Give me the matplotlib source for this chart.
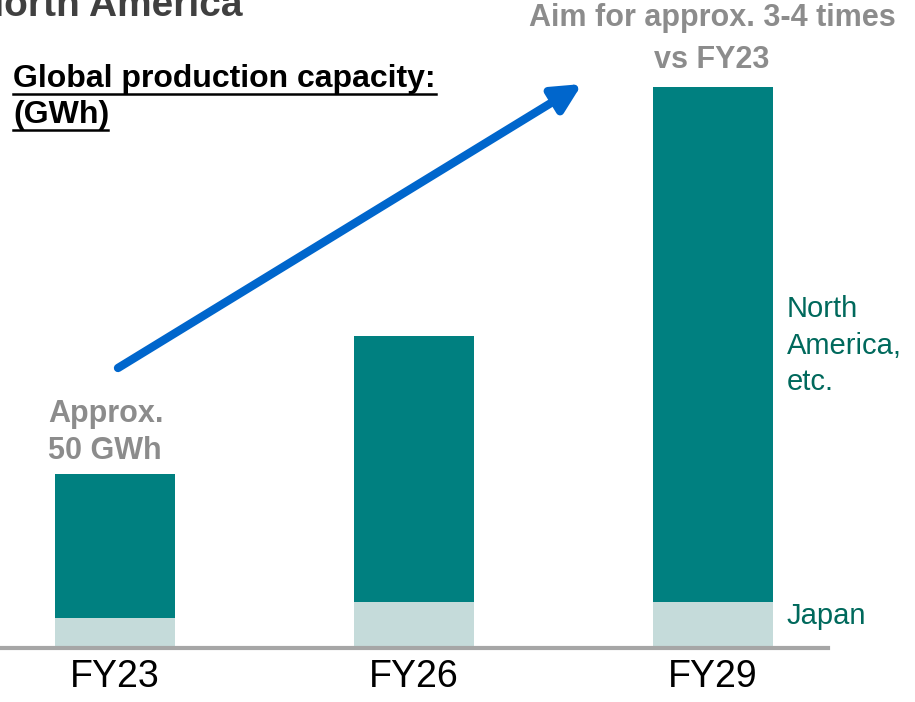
import matplotlib
matplotlib.use("Agg")
import matplotlib.pyplot as plt

plt.rcParams['font.family'] = ['Liberation Sans', 'DejaVu Sans']

# data (GWh)
years = ['FY23', 'FY26', 'FY29']
japan = [8.6, 13.2, 13.2]
north_america = [41.4, 76.5, 148.0]

teal = '#008080'
light = '#C5DBDA'
grey = '#8C8C8C'
green_txt = '#00695C'

W, H = 915, 702
fig = plt.figure(figsize=(W / 100, H / 100), dpi=100)

def px(x, y):
    # pixel coords (from top-left) to figure fraction
    return x / W, 1 - y / H

ax = fig.add_axes([0, 1 - 648 / H, 828 / W, 648 / H])
xs = range(len(years))
ax.bar(xs, japan, width=0.4, color=light)
ax.bar(xs, north_america, width=0.4, bottom=japan, color=teal)
ax.set_xlim(-0.385, 2.385)
ax.set_ylim(0, 648 / 3.48)
for s in ['top', 'right', 'left']:
    ax.spines[s].set_visible(False)
ax.spines['bottom'].set_color('#A6A6A6')
ax.spines['bottom'].set_linewidth(3)
ax.set_yticks([])
ax.set_xticks(list(xs))
ax.set_xticklabels(years, fontsize=27)
ax.tick_params(axis='x', length=0, pad=8)

# growth arrow
ax.annotate('', xy=px(582, 84), xytext=px(118, 368),
            xycoords='figure fraction', textcoords='figure fraction',
            arrowprops=dict(arrowstyle='-|>,head_length=1.7,head_width=0.85',
                            color='#0066CC', lw=6, shrinkA=0, shrinkB=0))

# titles and notes
fig.text(*px(-24, 16), 'North America', fontsize=28, fontweight='bold',
         color='#404040', va='baseline')
fig.text(*px(13, 87), 'Global production capacity:', fontsize=23,
         fontweight='bold', va='baseline')
fig.text(*px(13, 123), '(GWh)', fontsize=23, fontweight='bold', va='baseline')
for xx, yy, w in [(13, 94, 423), (13, 130, 95)]:
    fig.add_artist(plt.Line2D([xx / W, (xx + w) / W], [1 - yy / H] * 2,
                              color='black', lw=1.8))

fig.text(*px(712, 26), 'Aim for approx. 3-4 times', fontsize=22,
         fontweight='bold', color=grey, ha='center', va='baseline')
fig.text(*px(712, 68), 'vs FY23', fontsize=22, fontweight='bold',
         color=grey, ha='center', va='baseline')
fig.text(*px(48, 422), 'Approx.', fontsize=22, fontweight='bold',
         color=grey, va='baseline')
fig.text(*px(48, 459), '50 GWh', fontsize=22, fontweight='bold',
         color=grey, va='baseline')

fig.text(*px(787, 317), 'North', fontsize=21, color=green_txt, va='baseline')
fig.text(*px(787, 354), 'America,', fontsize=21, color=green_txt, va='baseline')
fig.text(*px(787, 390), 'etc.', fontsize=21, color=green_txt, va='baseline')
fig.text(*px(787, 624), 'Japan', fontsize=21, color=green_txt, va='baseline')

fig.savefig('out.png', dpi=100)
